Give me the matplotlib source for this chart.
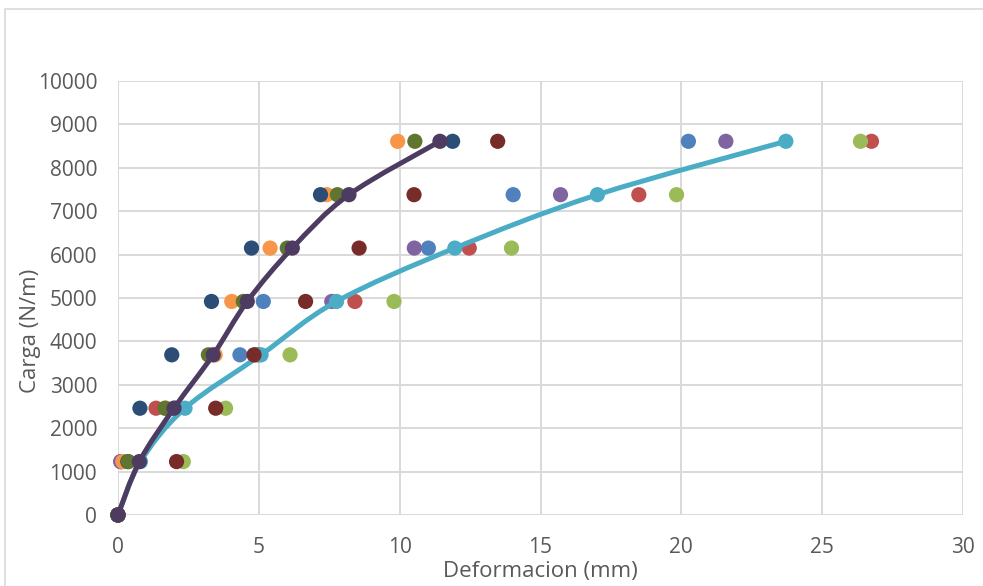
import numpy as np
import matplotlib
matplotlib.use("Agg")
import matplotlib.pyplot as plt
from matplotlib.path import Path
from matplotlib.patches import PathPatch, Rectangle

# load levels (N/m)
carga = [0, 1230, 2460, 3690, 4920, 6150, 7380, 8610]

# deformation per specimen (mm)
def_azul      = [0, 0.10, 2.00, 4.33, 5.16, 11.02, 14.03, 20.25]
def_rojo      = [0, 0.12, 1.35, 4.90, 8.41, 12.47, 18.49, 26.75]
def_verde     = [0, 2.32, 3.82, 6.11, 9.80, 13.97, 19.83, 26.36]
def_morado    = [0, 0.10, 2.10, 5.00, 7.59, 10.52, 15.71, 21.58]
def_cian      = [0, 0.80, 2.38, 5.08, 7.76, 11.96, 17.02, 23.71]
def_naranja   = [0, 0.17, 1.70, 3.45, 4.04, 5.40, 7.41, 9.93]
def_azul_osc  = [0, 0.35, 0.78, 1.91, 3.32, 4.74, 7.19, 11.88]
def_rojo_osc  = [0, 2.08, 3.47, 4.83, 6.66, 8.56, 10.51, 13.48]
def_verde_osc = [0, 0.37, 1.67, 3.21, 4.45, 6.01, 7.79, 10.54]
def_mor_osc   = [0, 0.76, 1.99, 3.38, 4.59, 6.19, 8.20, 11.43]

series = [
    (def_azul, "#4F81BD", False),
    (def_rojo, "#C0504D", False),
    (def_verde, "#9BBB59", False),
    (def_morado, "#8064A2", False),
    (def_cian, "#4BACC6", True),
    (def_naranja, "#F79646", False),
    (def_azul_osc, "#2C4D75", False),
    (def_rojo_osc, "#772C2A", False),
    (def_verde_osc, "#5F7530", False),
    (def_mor_osc, "#4D3B62", True),
]


def smooth_path(x, y):
    # Excel-like smoothed line: cubic bezier through the points
    pts = np.column_stack([x, y]).astype(float)
    n = len(pts)
    verts = [pts[0]]
    codes = [Path.MOVETO]
    for i in range(n - 1):
        p0 = pts[max(i - 1, 0)]
        p1 = pts[i]
        p2 = pts[i + 1]
        p3 = pts[min(i + 2, n - 1)]
        c1 = p1 + (p2 - p0) / 6.0
        c2 = p2 - (p3 - p1) / 6.0
        verts += [c1, c2, p2]
        codes += [Path.CURVE4] * 3
    return Path(verts, codes)


plt.rcParams['font.family'] = ['Open Sans', 'DejaVu Sans']

fig = plt.figure(figsize=(9.83, 5.86), dpi=100)
ax = fig.add_axes([0.120, 0.1212, 0.8597, 0.7406])

# chart frame
fig.patches.append(Rectangle((5 / 983, -0.05), 1.2, 1 - 9 / 586 + 0.05,
                             transform=fig.transFigure, fill=False,
                             edgecolor="#D9D9D9", lw=1.2))

for z, (xs, col, line) in enumerate(series):
    if line:
        ax.add_patch(PathPatch(smooth_path(xs, carga), facecolor="none",
                               edgecolor=col, lw=3.6, zorder=3 + z,
                               capstyle="round"))
    ax.scatter(xs, carga, s=120, color=col, edgecolors="none", zorder=3 + z,
               clip_on=False)

ax.set_xlim(0, 30)
ax.set_ylim(0, 10000)
ax.set_xticks(range(0, 31, 5))
ax.set_yticks(range(0, 10001, 1000))
ax.grid(True, color="#D9D9D9", lw=1.4)
ax.set_axisbelow(True)
for s in ax.spines.values():
    s.set_visible(False)
ax.tick_params(length=0, labelsize=15, labelcolor="#595959")
ax.tick_params(axis="x", pad=16)
ax.tick_params(axis="y", pad=15)
ax.set_xlabel("Deformacion (mm)", fontsize=16, color="#595959", va="center")
ax.set_ylabel("Carga (N/m)", fontsize=16, color="#595959", va="center")
ax.xaxis.set_label_coords(0.5, -0.131)
ax.yaxis.set_label_coords(-0.104, 0.425)

fig.savefig("out.png", dpi=100)
